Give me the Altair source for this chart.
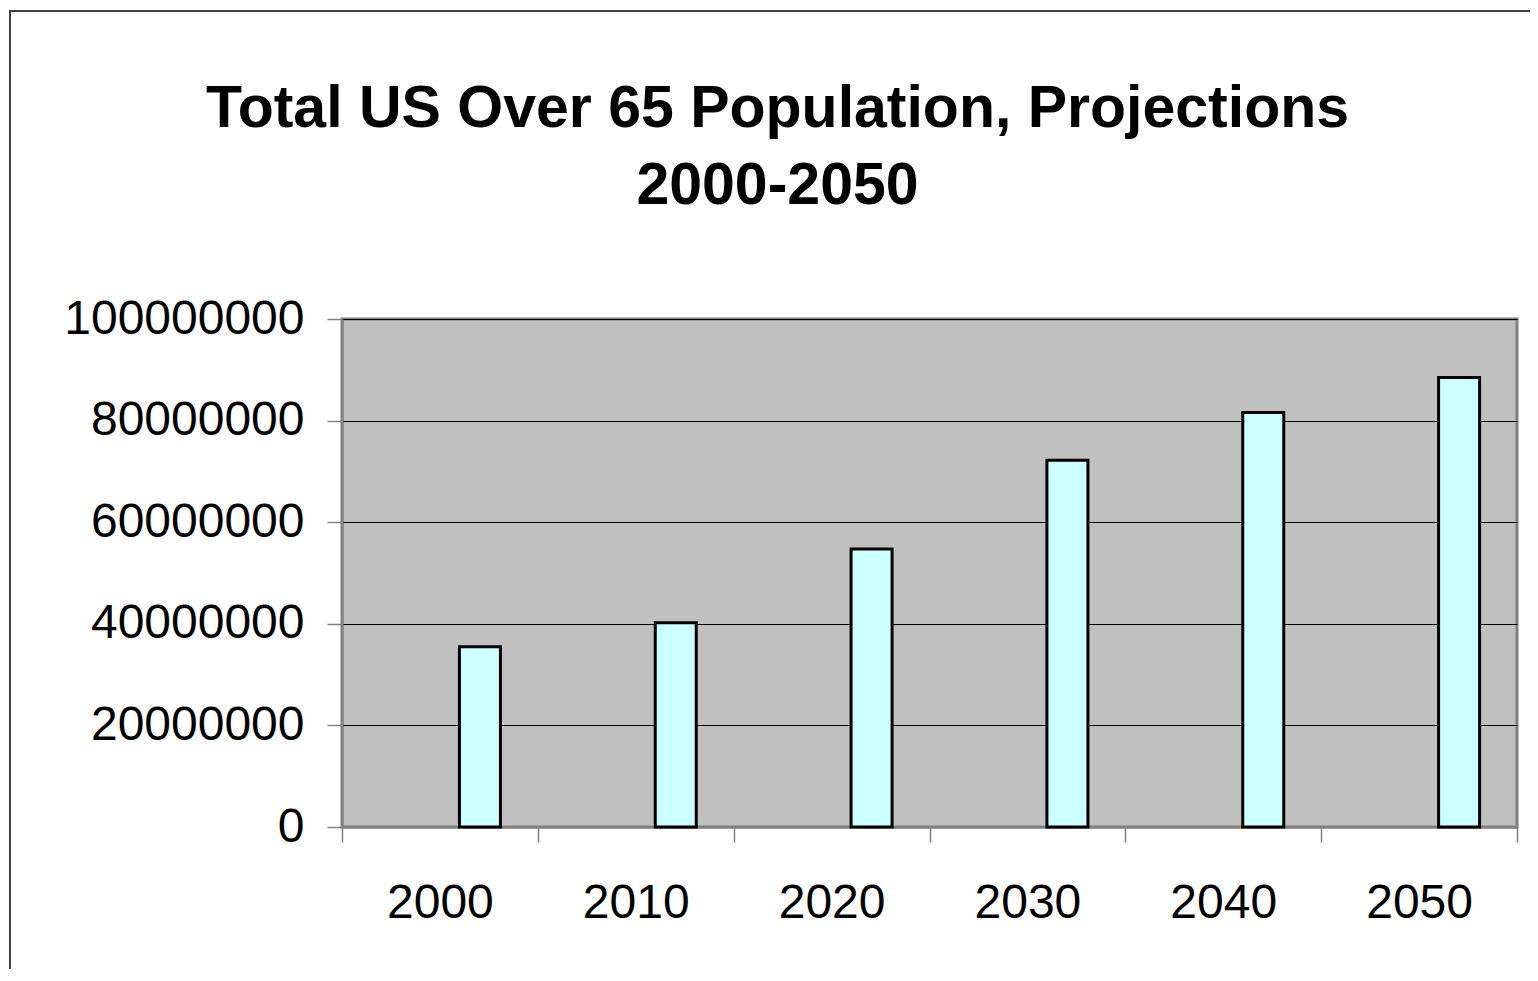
import altair as alt
import pandas as pd

years = ["2000", "2010", "2020", "2030", "2040", "2050"]
population = [35500000, 40200000, 54700000, 72200000, 81600000, 88500000]
y_ticks = [0, 20000000, 40000000, 60000000, 80000000, 100000000]
title_lines = ["Total US Over 65 Population, Projections", "2000-2050"]

df = pd.DataFrame({"year": years, "population": population})
frame_df = pd.DataFrame({"k": [0]})

FONT = "Liberation Sans"

frame = alt.Chart(frame_df).mark_rect(
    fillOpacity=0, stroke="#404040", strokeWidth=2
).encode(
    x=alt.value(-332), x2=alt.value(1300),
    y=alt.value(-308), y2=alt.value(900),
)

bars = alt.Chart(df).mark_bar(
    size=41, xOffset=40, fill="#CCFFFF", stroke="black", strokeWidth=3
).encode(
    x=alt.X(
        "year:N", sort=years,
        scale=alt.Scale(paddingInner=0, paddingOuter=0),
        axis=alt.Axis(
            title=None, labelAngle=0, tickBand="extent", grid=False,
            labelFontSize=48, labelFont=FONT, labelColor="black",
            labelPadding=37, tickSize=15, tickColor="#808080", tickWidth=1.5,
            domainColor="#808080", domainWidth=2,
        ),
    ),
    y=alt.Y(
        "population:Q",
        scale=alt.Scale(domain=[0, 100000000], nice=False),
        axis=alt.Axis(
            title=None, values=y_ticks, format="d", grid=True,
            gridColor="black", gridWidth=1, labelLimit=0,
            labelFontSize=48, labelFont=FONT, labelColor="black",
            labelPadding=23, tickSize=15, tickColor="#808080", tickWidth=1.5,
            domainColor="#808080", domainWidth=2,
        ),
    ),
)

chart = alt.layer(frame, bars).properties(
    width=1175,
    height=508,
    autosize="none",
    padding={"left": 334, "top": 311, "right": 13, "bottom": 142},
    title=alt.TitleParams(
        text=title_lines, fontSize=59, font=FONT, fontWeight="bold",
        anchor="middle", dx=-152, lineHeight=77, offset=-253,
        baseline="alphabetic", color="black",
    ),
).configure_view(
    fill="#C0C0C0", stroke="#808080", strokeWidth=3
)

chart.save("out.html", embed_options={"renderer": "svg", "actions": False})
